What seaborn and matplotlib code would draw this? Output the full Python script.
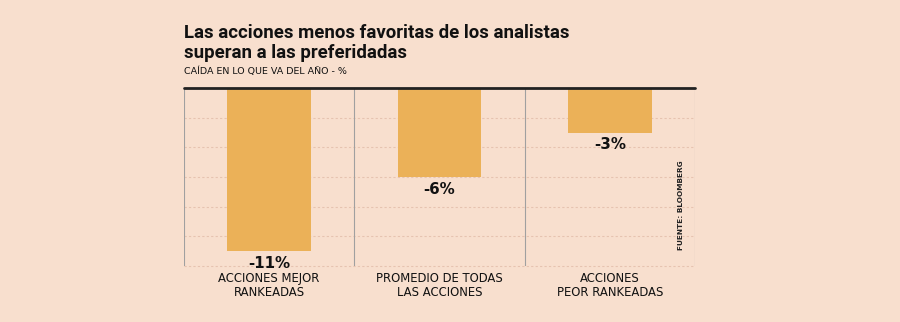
import matplotlib
matplotlib.use("Agg")
import matplotlib.pyplot as plt
import seaborn as sns
import pandas as pd

categories = ["ACCIONES MEJOR\nRANKEADAS", "PROMEDIO DE TODAS\nLAS ACCIONES", "ACCIONES\nPEOR RANKEADAS"]
values = [-11, -6, -3]
value_labels = ["-11%", "-6%", "-3%"]
title = "Las acciones menos favoritas de los analistas\nsuperan a las preferidadas"
subtitle = "CAÍDA EN LO QUE VA DEL AÑO - %"
source = "FUENTE: BLOOMBERG"

BG = "#F8DFCE"
BAR = "#EBB158"

sns.set_theme(style="white")
plt.rcParams['font.family'] = ['DejaVu Sans']

df = pd.DataFrame({"cat": categories, "val": values})

fig = plt.figure(figsize=(9, 3.22), dpi=100)
fig.patch.set_facecolor(BG)
ax = fig.add_axes([184/900, 1-266/322, (695-184)/900, (266-88)/322])
ax.set_facecolor(BG)

sns.barplot(data=df, x="cat", y="val", color=BAR, width=0.49, saturation=1,
            linewidth=0, edgecolor="none", ax=ax, zorder=3)

ax.set_ylim(-12, 0)
ax.set_xlim(-0.5, 2.5)
for y in [-2, -4, -6, -8, -10, -12]:
    ax.axhline(y, color="#E6C3B0", lw=0.8, ls=(0, (2, 2)), zorder=1, clip_on=False)
for x in [-0.5, 0.5, 1.5, 2.5]:
    ax.axvline(x, color="#A0A0A0", lw=0.8, zorder=2)
ax.axhline(0, color="#222222", lw=2, zorder=4, clip_on=False)

for s in ax.spines.values():
    s.set_visible(False)
ax.set_yticks([])
ax.set_xlabel("")
ax.set_ylabel("")
ax.tick_params(axis="x", length=0, pad=4.5, labelsize=8.4, labelcolor="#111111")
for t in ax.get_xticklabels():
    t.set_linespacing(1.05)

for i, (v, lab) in enumerate(zip(values, value_labels)):
    ax.annotate(lab, xy=(i, v), xytext=(0, -3.5), textcoords="offset points",
                ha="center", va="top", fontsize=10.8, fontweight="bold", color="#111111")

ax.text(2.42, -7.9, source, rotation=90, ha="center", va="center",
        fontsize=5.3, fontweight="bold", color="#222222")

fig.text(184/900, 1-24/322, title, ha="left", va="top", fontsize=13.4,
         fontweight="bold", color="#111111", linespacing=1.12, family=["Roboto", "DejaVu Sans"])
fig.text(184/900, 1-66/322, subtitle, ha="left", va="top", fontsize=6.8,
         color="#111111")

fig.savefig("out.png", dpi=100, facecolor=BG)
